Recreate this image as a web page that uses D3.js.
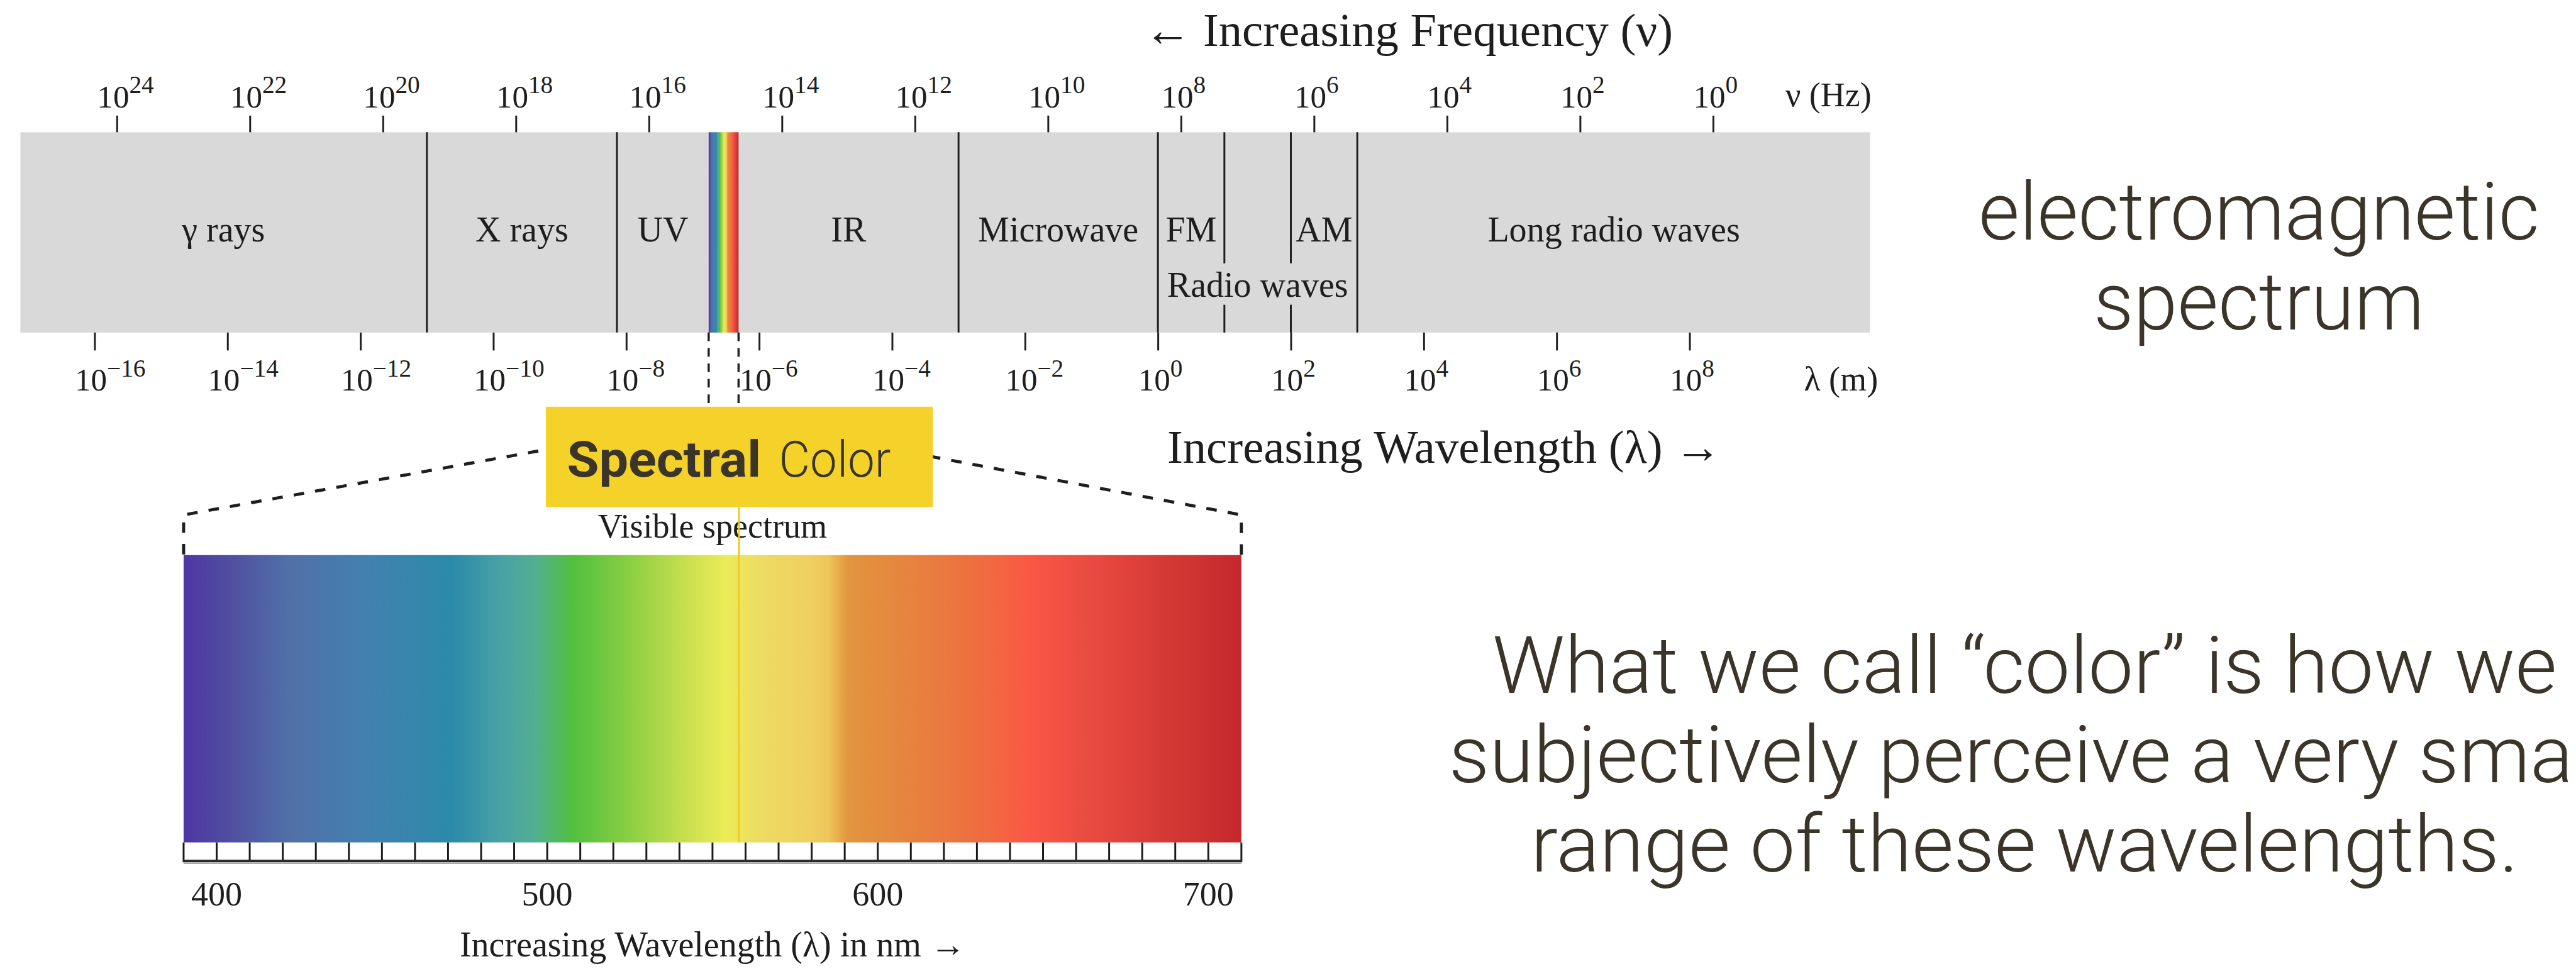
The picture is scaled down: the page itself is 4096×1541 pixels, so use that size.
<!DOCTYPE html>
<html>
<head>
<meta charset="utf-8">
<script src="https://cdn.jsdelivr.net/npm/d3@7"></script>
<style>
body{margin:0;background:#fff;}
svg{display:block;}
</style>
</head>
<body>
<svg id="chart" width="4096" height="1541"></svg>
<script>
// ---- data ----
var freqTicks = [24,22,20,18,16,14,12,10,8,6,4,2,0];        // log10 Hz
var waveTicks = [-16,-14,-12,-10,-8,-6,-4,-2,0,2,4,6,8];    // log10 m
var dividers = [-11,-8.14,-3,0,1,2,3];                       // log10 m, band borders
var splitDividers = [1,2];                                   // borders broken by "Radio waves"
var bandNames = ["γ rays","X rays","UV","IR","Microwave","FM","AM","Long radio waves"];
var bandFrom  = [-17.12,-11,-8.14,-6.31,-3,0,2,3];
var bandTo    = [-11,-8.14,-6.76,-3,0,1,3,10.72];
var radioBand = [0,3];
var visibleBand = [-6.76,-6.31];
var nmRange = [390,710];
var nmLabels = [400,500,600,700];
var spectrumNm = [390,405,422,446,471,486,496,508,526,544,554,565,579,585,591,613,633,646,666,686,710];
var spectrumColors = ["#4f36a3","#5050a0","#5170a8","#4281b0","#2b8aa9","#48a2a6","#52ae92","#52c03e","#8fd043","#cfe150",
  "#ecec57","#eddb62","#efd060","#eec65a","#e2953e","#e7803f","#f06a40","#fa5745","#e84a40","#d63a36","#c4282c"];
var spectralLine = 558;

var K = 0.983;
var svg = d3.select("#chart");
var root = svg.append("g").attr("transform","scale(" + K + ")");
var serif = "'Liberation Serif','Times New Roman',serif";
var sans = "'Helvetica Neue',Roboto,'Liberation Sans',sans-serif";
var ink = "#1e1e1e";
var slideInk = "#3a3429";

var bandTop = 214, bandBot = 538;
var fx = d3.scaleLog().domain([1e24,1]).range([189,2771]);
var wx = d3.scaleLog().domain([1e-16,1e8]).range([153,2733]);
var nx = d3.scaleLinear().domain(nmRange).range([297,2008]);
function w(e){ return wx(Math.pow(10,e)); }

// gradient
var defs = svg.append("defs");
var grad = defs.append("linearGradient").attr("id","spec").attr("x1","0").attr("x2","1").attr("y1","0").attr("y2","0");
grad.selectAll("stop").data(spectrumNm).enter().append("stop")
 .attr("offset", function(d){ return (d-nmRange[0])/(nmRange[1]-nmRange[0]); })
 .attr("stop-color", function(d,i){ return spectrumColors[i]; });

// ---- electromagnetic band ----
root.append("rect").attr("x",33).attr("y",bandTop).attr("width",3025-33).attr("height",bandBot-bandTop).attr("fill","#d9d9d9");
root.append("rect").attr("x",w(visibleBand[0])).attr("y",bandTop).attr("width",w(visibleBand[1])-w(visibleBand[0]))
 .attr("height",bandBot-bandTop).attr("fill","url(#spec)");

dividers.forEach(function(e){
 var x = w(e);
 if (splitDividers.indexOf(e) >= 0) {
  root.append("line").attr("x1",x).attr("x2",x).attr("y1",bandTop).attr("y2",426).attr("stroke",ink).attr("stroke-width",3);
  root.append("line").attr("x1",x).attr("x2",x).attr("y1",493).attr("y2",bandBot).attr("stroke",ink).attr("stroke-width",3);
 } else {
  root.append("line").attr("x1",x).attr("x2",x).attr("y1",bandTop).attr("y2",bandBot).attr("stroke",ink).attr("stroke-width",3);
 }
});

root.selectAll("text.band").data(bandNames).enter().append("text").attr("class","band")
 .attr("x", function(d,i){ return (w(bandFrom[i]) + w(bandTo[i]))/2; })
 .attr("y",391).attr("text-anchor","middle").attr("font-family",serif).attr("font-size",57).attr("fill",ink)
 .text(function(d){ return d; });
root.append("text").attr("x",(w(radioBand[0])+w(radioBand[1]))/2).attr("y",480).attr("text-anchor","middle")
 .attr("font-family",serif).attr("font-size",57).attr("fill",ink).text("Radio waves");

// axes
var topAxis = root.append("g").attr("transform","translate(0," + bandTop + ")")
 .call(d3.axisTop(fx).tickValues(freqTicks.map(function(e){ return Math.pow(10,e); })).tickSize(27).tickFormat(""));
var botAxis = root.append("g").attr("transform","translate(0," + bandBot + ")")
 .call(d3.axisBottom(wx).tickValues(waveTicks.map(function(e){ return Math.pow(10,e); })).tickSize(29).tickFormat(""));
[topAxis,botAxis].forEach(function(a){
 a.select(".domain").remove();
 a.selectAll(".tick line").attr("stroke",ink).attr("stroke-width",3);
});

function powerLabels(ticks, scale, y){
 var t = root.selectAll(null).data(ticks).enter().append("text")
  .attr("x", function(d){ return scale(Math.pow(10,d)) - 32; }).attr("y",y)
  .attr("font-family",serif).attr("font-size",52).attr("fill",ink);
 t.append("tspan").text("10");
 t.append("tspan").attr("dy",-23).attr("font-size",40).text(function(d){ return d < 0 ? "\u2212" + (-d) : d; });
}
powerLabels(freqTicks, fx, 174);
powerLabels(waveTicks, wx, 632);

root.append("text").attr("x",2888).attr("y",172).attr("font-family",serif).attr("font-size",55).attr("fill",ink).text("ν (Hz)");
root.append("text").attr("x",2918).attr("y",632).attr("font-family",serif).attr("font-size",55).attr("fill",ink).text("λ (m)");
root.append("text").attr("x",1851).attr("y",74).attr("font-family",serif).attr("font-size",76).attr("fill",ink).text("← Increasing Frequency (ν)");
root.append("text").attr("x",1888).attr("y",749).attr("font-family",serif).attr("font-size",76).attr("fill",ink).text("Increasing Wavelength (λ) →");

// ---- projection to visible spectrum ----
var specTop = 898, specBot = 1363, joinY = 680, cornerY = 833;
[[visibleBand[0], nmRange[0]], [visibleBand[1], nmRange[1]]].forEach(function(p){
 var xa = w(p[0]), xb = nx(p[1]);
 root.append("line").attr("x1",xa).attr("x2",xa).attr("y1",bandBot).attr("y2",joinY)
  .attr("stroke","#1e1e1e").attr("stroke-width",3.5).attr("stroke-dasharray","14,11");
 root.append("path").attr("d","M" + xa + "," + joinY + "L" + xb + "," + cornerY + "L" + xb + "," + specTop)
  .attr("fill","none").attr("stroke","#1e1e1e").attr("stroke-width",5).attr("stroke-dasharray","17,18");
});

root.append("text").attr("x",(nx(nmRange[0])+nx(nmRange[1]))/2).attr("y",870).attr("text-anchor","middle")
 .attr("font-family",serif).attr("font-size",55).attr("fill",ink).text("Visible spectrum");

root.append("rect").attr("x",nx(nmRange[0])).attr("y",specTop).attr("width",nx(nmRange[1])-nx(nmRange[0]))
 .attr("height",specBot-specTop).attr("fill","url(#spec)");

// ruler
root.append("rect").attr("x",nx(nmRange[0])).attr("y",specBot).attr("width",nx(nmRange[1])-nx(nmRange[0]))
 .attr("height",29).attr("fill","#fff");
root.selectAll(null).data(d3.range(nmRange[0], nmRange[1]+1, 10)).enter().append("line")
 .attr("x1",function(d){ return nx(d); }).attr("x2",function(d){ return nx(d); })
 .attr("y1",specBot).attr("y2",specBot+29).attr("stroke","#1a1a1a").attr("stroke-width",3);
root.append("line").attr("x1",nx(nmRange[0])-1.5).attr("x2",nx(nmRange[1])+1.5).attr("y1",specBot+30).attr("y2",specBot+30)
 .attr("stroke","#2a2a2a").attr("stroke-width",4);
root.append("line").attr("x1",nx(nmRange[0])).attr("x2",nx(nmRange[1])).attr("y1",specBot+33.5).attr("y2",specBot+33.5)
 .attr("stroke","#999").attr("stroke-width",2);

root.selectAll(null).data(nmLabels).enter().append("text")
 .attr("x",function(d){ return nx(d); }).attr("y",1465).attr("text-anchor","middle")
 .attr("font-family",serif).attr("font-size",55).attr("fill",ink).text(function(d){ return d; });
root.append("text").attr("x",(nx(nmRange[0])+nx(nmRange[1]))/2).attr("y",1547).attr("text-anchor","middle")
 .attr("font-family",serif).attr("font-size",57).attr("fill",ink).text("Increasing Wavelength (λ) in nm →");

// ---- "Spectral Color" callout ----
root.append("line").attr("x1",nx(spectralLine)).attr("x2",nx(spectralLine)).attr("y1",815).attr("y2",specBot)
 .attr("stroke","#f2c81e").attr("stroke-width",3);
root.append("rect").attr("x",883).attr("y",658).attr("width",1509-883).attr("height",820-658).attr("fill","#f5d22a");
root.append("text").attr("x",917).attr("y",771).attr("font-family",sans).attr("font-weight",700).attr("font-size",82)
 .attr("fill",slideInk).attr("textLength",314).attr("lengthAdjust","spacingAndGlyphs").text("Spectral");
root.append("text").attr("x",1260).attr("y",771).attr("font-family",sans).attr("font-weight",300).attr("font-size",82)
 .attr("fill",slideInk).attr("textLength",181).attr("lengthAdjust","spacingAndGlyphs").text("Color");

// ---- slide text ----
var heading = ["electromagnetic","spectrum"];
var headingW = [907,535];
root.selectAll(null).data(heading).enter().append("text")
 .attr("x",3654).attr("y",function(d,i){ return 388 + i*145; }).attr("text-anchor","middle")
 .attr("font-family",sans).attr("font-weight",300).attr("font-size",130).attr("fill",slideInk)
 .attr("textLength",function(d,i){ return headingW[i]; }).attr("lengthAdjust","spacingAndGlyphs")
 .text(function(d){ return d; });

var para = ["What we call \u201Ccolor\u201D is how we","subjectively perceive a very small","range of these wavelengths."];
var paraW = [1722,1877,1598];
var paraX = [3275,3282,3275];
root.selectAll(null).data(para).enter().append("text")
 .attr("x",function(d,i){ return paraX[i]; }).attr("y",function(d,i){ return 1121 + i*144.5; }).attr("text-anchor","middle")
 .attr("font-family",sans).attr("font-weight",300).attr("font-size",128).attr("fill",slideInk)
 .attr("textLength",function(d,i){ return paraW[i]; }).attr("lengthAdjust","spacingAndGlyphs")
 .text(function(d){ return d; });
</script>
</body>
</html>
